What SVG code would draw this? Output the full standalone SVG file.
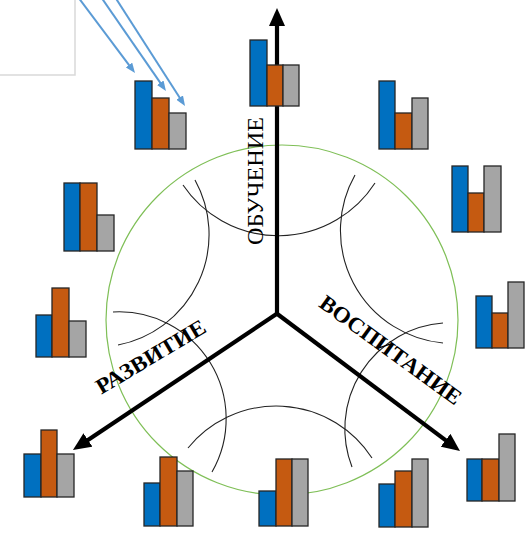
<svg xmlns="http://www.w3.org/2000/svg" width="530" height="535" viewBox="0 0 530 535">
<style>
.b{fill:#0070c0;stroke:#262626;stroke-width:1.3}
.o{fill:#c55a11;stroke:#262626;stroke-width:1.3}
.g{fill:#a5a5a5;stroke:#262626;stroke-width:1.3}
.arc{fill:none;stroke:#222;stroke-width:1.1}
.axis{fill:none;stroke:#000;stroke-width:4.2}
.blue{fill:none;stroke:#5b9bd5;stroke-width:2}
.lbl{font-family:"Liberation Serif","Times New Roman",serif;fill:#000}
</style>
<defs>
<marker id="ah" viewBox="0 0 18 16" markerWidth="18" markerHeight="16" markerUnits="userSpaceOnUse" refX="4" refY="8" orient="auto">
<path d="M0,0 L18,8 L0,16 z" fill="#000"/>
</marker>
<marker id="bh" viewBox="0 0 10 8" markerWidth="10" markerHeight="8" markerUnits="userSpaceOnUse" refX="2" refY="4" orient="auto">
<path d="M0,0 L10,4 L0,8 z" fill="#5b9bd5"/>
</marker>
</defs>
<rect width="530" height="535" fill="#fff"/>
<g id="textbox">
<rect x="-2" y="-2" width="77" height="77" fill="#fff" stroke="#d9d9d9" stroke-width="1.5"/>
</g>
<g id="circle">
<ellipse cx="282" cy="320" rx="176" ry="175" fill="none" stroke="#7fbf57" stroke-width="1.2"/>
</g>
<g id="arcs">
<path class="arc" d="M183,185 A115,115 0 0 0 375,183"/>
<path class="arc" d="M195,180 A112.6,112.6 0 0 1 118,345"/>
<path class="arc" d="M355,175 A113,113 0 0 0 443,343"/>
<path class="arc" d="M113,312 A107,107 0 0 1 212,472"/>
<path class="arc" d="M443,323 A106,106 0 0 0 352,467"/>
<path class="arc" d="M188,448 A114,114 0 0 1 372,458"/>
</g>
<g id="connectors">
<path class="axis" d="M277,314 L277,22" marker-end="url(#ah)"/>
<path class="axis" d="M278,313 L84.6,442.2" marker-end="url(#ah)"/>
<path class="axis" d="M276,313 L448.8,442.6" marker-end="url(#ah)"/>
<path class="blue" d="M78,-3 L130.2,66.6" marker-end="url(#bh)"/>
<path class="blue" d="M101,-3 L161.4,84.4" marker-end="url(#bh)"/>
<path class="blue" d="M115,-3 L180.7,99.3" marker-end="url(#bh)"/>
</g>
<g id="label-obuchenie">
<text class="lbl" font-size="23" text-anchor="middle" textLength="128" lengthAdjust="spacingAndGlyphs" transform="translate(263,181) rotate(-90)">ОБУЧЕНИЕ</text>
</g>
<g id="label-vospitanie">
<text class="lbl" font-size="22" font-weight="bold" text-anchor="middle" textLength="170" lengthAdjust="spacingAndGlyphs" transform="translate(386.4,356) rotate(36)">ВОСПИТАНИЕ</text>
</g>
<g id="label-razvitie">
<text class="lbl" font-size="22" font-weight="bold" text-anchor="middle" textLength="124" lengthAdjust="spacingAndGlyphs" transform="translate(154.4,363) rotate(-30.8)">РАЗВИТИЕ</text>
</g>
<g id="chart-a">
<rect class="b" x="250" y="40" width="17" height="66"/>
<rect class="o" x="267" y="65" width="16" height="41"/>
<rect class="g" x="283" y="65" width="16" height="41"/>
</g>
<g id="chart-b">
<rect class="b" x="135" y="81" width="17" height="68"/>
<rect class="o" x="152" y="98" width="17" height="51"/>
<rect class="g" x="169" y="113" width="17" height="36"/>
</g>
<g id="chart-c">
<rect class="b" x="379" y="81" width="16" height="68"/>
<rect class="o" x="395" y="113" width="17" height="36"/>
<rect class="g" x="412" y="98" width="16" height="51"/>
</g>
<g id="chart-d">
<rect class="b" x="452" y="166" width="16" height="66"/>
<rect class="o" x="468" y="193" width="16" height="39"/>
<rect class="g" x="484" y="166" width="17" height="66"/>
</g>
<g id="chart-e">
<rect class="b" x="476" y="296" width="16" height="52"/>
<rect class="o" x="492" y="313" width="16" height="35"/>
<rect class="g" x="508" y="282" width="16" height="66"/>
</g>
<g id="chart-f">
<rect class="b" x="64" y="183" width="16" height="68"/>
<rect class="o" x="80" y="183" width="17" height="68"/>
<rect class="g" x="97" y="215" width="17" height="36"/>
</g>
<g id="chart-g">
<rect class="b" x="36" y="315" width="16" height="42"/>
<rect class="o" x="52" y="288" width="17" height="69"/>
<rect class="g" x="69" y="321" width="17" height="36"/>
</g>
<g id="chart-h">
<rect class="b" x="24" y="454" width="17" height="43"/>
<rect class="o" x="41" y="430" width="16" height="67"/>
<rect class="g" x="57" y="454" width="17" height="43"/>
</g>
<g id="chart-i">
<rect class="b" x="144" y="483" width="16" height="43"/>
<rect class="o" x="160" y="457" width="17" height="69"/>
<rect class="g" x="177" y="471" width="16" height="55"/>
</g>
<g id="chart-j">
<rect class="b" x="259" y="491" width="17" height="35"/>
<rect class="o" x="276" y="459" width="16" height="67"/>
<rect class="g" x="292" y="459" width="16" height="67"/>
</g>
<g id="chart-k">
<rect class="b" x="379" y="484" width="16" height="43"/>
<rect class="o" x="395" y="471" width="17" height="56"/>
<rect class="g" x="412" y="459" width="16" height="68"/>
</g>
<g id="chart-l">
<rect class="b" x="467" y="459" width="15" height="42"/>
<rect class="o" x="482" y="459" width="17" height="42"/>
<rect class="g" x="499" y="434" width="16" height="67"/>
</g>
</svg>
